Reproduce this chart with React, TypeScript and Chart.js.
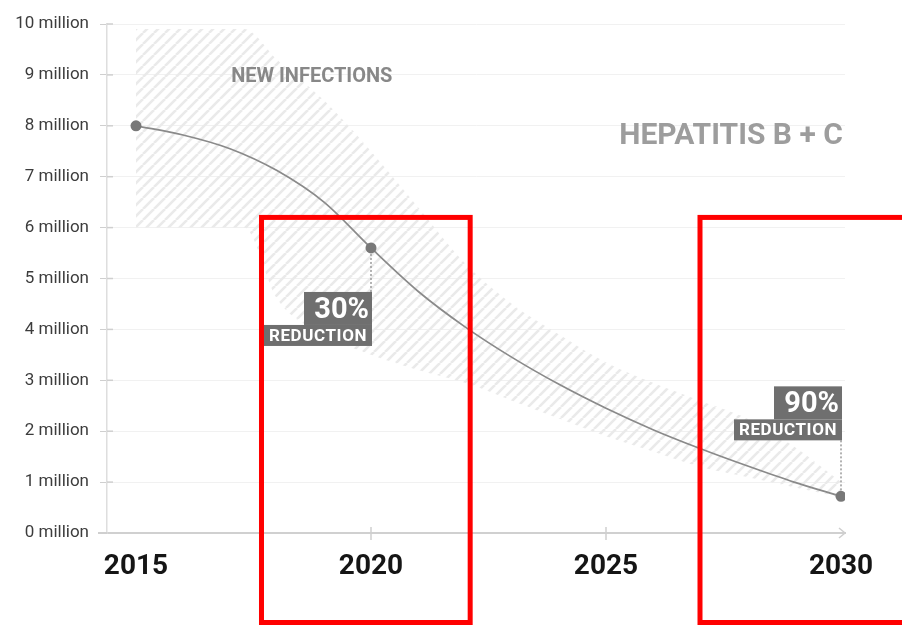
import React, { useEffect, useRef } from 'react';
import { Chart, registerables } from 'chart.js';

Chart.register(...registerables);

// ---- data ----
const curveYears = [2015, 2016, 2017, 2018, 2019, 2020, 2021, 2022, 2023, 2024, 2025, 2026, 2027, 2028, 2029, 2030];
const newInfections = [8.0, 7.82, 7.55, 7.12, 6.5, 5.6, 4.75, 4.05, 3.45, 2.92, 2.45, 2.03, 1.66, 1.32, 1.0, 0.72];

const bandYears = [2015, 2016, 2017, 2017.3, 2018, 2019, 2020, 2021, 2022, 2023, 2024, 2025, 2026, 2027, 2028, 2029, 2030];
const bandUpper = [9.9, 9.9, 9.9, 9.9, 9.3, 8.5, 7.5, 6.4, 5.3, 4.5, 3.9, 3.35, 2.95, 2.6, 2.25, 1.7, 1.0];
const bandLower = [6.0, 6.0, 6.0, 6.0, 4.6, 3.9, 3.5, 3.2, 2.95, 2.6, 2.25, 1.9, 1.6, 1.3, 1.1, 0.9, 0.7];

const markerYears = [2015, 2020, 2030];
const markerValues = [8.0, 5.6, 0.72];

const xTickYears = [2015, 2020, 2025, 2030];
const xAxisTickMarks = [2020, 2025];
const yTickValues = [0, 1, 2, 3, 4, 5, 6, 7, 8, 9, 10];

const reductionYears = [2020, 2030];
const reductionValues = [5.6, 0.72];
const reductionPercents = ['30%', '90%'];
const reductionPlacement = ['below', 'above'];
const reductionWord = 'REDUCTION';

const bandTitle = 'NEW INFECTIONS';
const bandTitlePos = [2018.74, 8.95];
const chartTitle = 'HEPATITIS B + C';
const chartTitlePos = [2030.04, 7.78];

const highlightXRanges = [
  [2017.67, 2022.11],
  [2027.0, 2031.6],
];
const highlightTop = 6.2;

const FONT = "Roboto, 'Noto Sans', 'DejaVu Sans', sans-serif";

function makeHatch(): CanvasPattern | string {
  const size = 11;
  const c = document.createElement('canvas');
  c.width = size;
  c.height = size;
  const g = c.getContext('2d');
  if (!g) return '#eeeeee';
  g.strokeStyle = '#eaeaea';
  g.lineWidth = 2.6;
  for (const o of [-size, 0, size]) {
    g.beginPath();
    g.moveTo(o, size);
    g.lineTo(o + size, 0);
    g.stroke();
  }
  const p = g.createPattern(c, 'repeat');
  return p || '#eeeeee';
}

const overlayPlugin = {
  id: 'overlay',
  afterDatasetsDraw(chart: any) {
    const { ctx, scales } = chart;
    const x = scales.x;
    const y = scales.y;
    const y0 = y.getPixelForValue(0);
    const xl = chart.chartArea.left;
    const xr = chart.chartArea.right;

    ctx.save();
    ctx.strokeStyle = '#cfcfcf';
    ctx.lineWidth = 2;
    // x axis stub left of the y axis
    ctx.beginPath();
    ctx.moveTo(xl - 9, y0);
    ctx.lineTo(xl, y0);
    ctx.stroke();
    ctx.lineWidth = 1.5;
    // x-axis tick marks
    for (const t of xAxisTickMarks) {
      const px = x.getPixelForValue(t);
      ctx.beginPath();
      ctx.moveTo(px, y0 - 6);
      ctx.lineTo(px, y0 + 7);
      ctx.stroke();
    }
    // arrow head at end of x axis
    ctx.beginPath();
    ctx.moveTo(xr - 6, y0 - 5);
    ctx.lineTo(xr, y0);
    ctx.lineTo(xr - 6, y0 + 5);
    ctx.stroke();
    // y tick crossings to the right of the axis
    for (const v of yTickValues) {
      if (v === 0) continue;
      const py = y.getPixelForValue(v);
      ctx.beginPath();
      ctx.moveTo(xl, py);
      ctx.lineTo(xl + 6, py);
      ctx.stroke();
    }

    // titles
    ctx.fillStyle = '#888888';
    ctx.font = `bold 20px ${FONT}`;
    ctx.textAlign = 'center';
    ctx.textBaseline = 'middle';
    ctx.fillText(bandTitle, x.getPixelForValue(bandTitlePos[0]), y.getPixelForValue(bandTitlePos[1]));
    ctx.fillStyle = '#9d9d9d';
    ctx.font = `bold 30px ${FONT}`;
    ctx.textAlign = 'right';
    ctx.fillText(chartTitle, x.getPixelForValue(chartTitlePos[0]), y.getPixelForValue(chartTitlePos[1]));

    // reduction labels
    const topW = 68;
    const topH = 33;
    const botW = 108;
    const botH = 21;
    reductionYears.forEach((yr, i) => {
      const px = x.getPixelForValue(yr);
      const py = y.getPixelForValue(reductionValues[i]);
      const right = px + 1;
      let boxTop: number;
      let connFrom: number;
      let connTo: number;
      if (reductionPlacement[i] === 'below') {
        boxTop = py + 44;
        connFrom = py + 6;
        connTo = boxTop;
      } else {
        boxTop = py - 56 - topH - botH;
        connFrom = boxTop + topH + botH;
        connTo = py - 6;
      }
      ctx.strokeStyle = '#9a9a9a';
      ctx.lineWidth = 1.5;
      ctx.setLineDash([2, 2]);
      ctx.beginPath();
      ctx.moveTo(px, connFrom);
      ctx.lineTo(px, connTo);
      ctx.stroke();
      ctx.setLineDash([]);

      ctx.fillStyle = '#6f6f6f';
      ctx.fillRect(right - topW, boxTop, topW, topH);
      ctx.fillRect(right - botW, boxTop + topH, botW, botH);
      ctx.fillStyle = '#ffffff';
      ctx.textAlign = 'right';
      ctx.textBaseline = 'middle';
      ctx.font = `bold 29px ${FONT}`;
      ctx.fillText(reductionPercents[i], right - 3, boxTop + topH / 2 + 2);
      ctx.textAlign = 'center';
      ctx.font = `bold 17px ${FONT}`;
      try {
        (ctx as any).letterSpacing = '0.6px';
      } catch (e) {
        /* ignore */
      }
      ctx.fillText(reductionWord, right - botW / 2, boxTop + topH + botH / 2 + 1);
      try {
        (ctx as any).letterSpacing = '0px';
      } catch (e) {
        /* ignore */
      }
    });
    ctx.restore();
  },
  afterDraw(chart: any) {
    const { ctx, scales } = chart;
    const x = scales.x;
    const y = scales.y;
    ctx.save();
    ctx.strokeStyle = '#ff0000';
    ctx.lineWidth = 5;
    const top = y.getPixelForValue(highlightTop);
    const bottom = chart.height - 2.5;
    for (const [a, b] of highlightXRanges) {
      const l = x.getPixelForValue(a);
      const r = x.getPixelForValue(b);
      ctx.strokeRect(l, top, r - l, bottom - top);
    }
    ctx.restore();
  },
};

export default function App() {
  const ref = useRef<HTMLCanvasElement | null>(null);

  useEffect(() => {
    if (!ref.current) return;
    const hatch = makeHatch();
    const chart = new Chart(ref.current, {
      type: 'line',
      data: {
        datasets: [
          {
            label: 'markers',
            data: markerYears.map((yr, i) => ({ x: yr, y: markerValues[i] })),
            showLine: false,
            pointRadius: 5.5,
            pointBackgroundColor: '#787878',
            pointBorderWidth: 0,
          },
          {
            label: 'New infections',
            data: curveYears.map((yr, i) => ({ x: yr, y: newInfections[i] })),
            borderColor: '#8a8a8a',
            borderWidth: 1.7,
            pointRadius: 0,
            cubicInterpolationMode: 'monotone',
            fill: false,
          },
          {
            label: 'band upper',
            data: bandYears.map((yr, i) => ({ x: yr, y: bandUpper[i] })),
            borderWidth: 0,
            borderColor: 'rgba(0,0,0,0)',
            pointRadius: 0,
            cubicInterpolationMode: 'monotone',
            backgroundColor: hatch as any,
            fill: '+1',
          },
          {
            label: 'band lower',
            data: bandYears.map((yr, i) => ({ x: yr, y: bandLower[i] })),
            borderWidth: 0,
            borderColor: 'rgba(0,0,0,0)',
            pointRadius: 0,
            cubicInterpolationMode: 'monotone',
            fill: false,
          },
        ],
      },
      options: {
        animation: false,
        responsive: false,
        maintainAspectRatio: false,
        layout: { padding: { left: 0, top: 24, right: 57, bottom: 0 } },
        plugins: {
          legend: { display: false },
          tooltip: { enabled: false },
        },
        scales: {
          x: {
            type: 'linear',
            min: 2014.383,
            max: 2030.085,
            afterBuildTicks: (s: any) => {
              s.ticks = xTickYears.map((v) => ({ value: v }));
            },
            afterFit: (s: any) => {
              s.height = 92;
            },
            grid: { display: false, drawTicks: false },
            border: { display: true, color: '#d0d0d0', width: 2 },
            ticks: {
              padding: 17,
              color: '#151515',
              font: { family: FONT, size: 28, weight: 'bold' },
              callback: (v: any) => String(v),
            },
          },
          y: {
            type: 'linear',
            min: 0,
            max: 10,
            afterBuildTicks: (s: any) => {
              s.ticks = yTickValues.map((v) => ({ value: v }));
            },
            afterFit: (s: any) => {
              s.width = 107;
            },
            grid: {
              color: (c: any) => (c.tick && c.tick.value === 0 ? 'rgba(0,0,0,0)' : '#f1f1f1'),
              lineWidth: 1,
              drawTicks: true,
              tickLength: 7,
              tickColor: '#cfcfcf',
            },
            border: { display: true, color: '#dedede', width: 1.5 },
            ticks: {
              padding: 11,
              color: '#3c3c3c',
              font: { family: FONT, size: 17 },
              callback: (v: any) => `${v} million`,
            },
          },
        },
      },
      plugins: [overlayPlugin],
    });
    return () => chart.destroy();
  }, []);

  return (
    <div style={{ position: 'fixed', left: 0, top: 0, width: 902, height: 625, background: '#ffffff' }}>
      <canvas ref={ref} width={902} height={625} style={{ display: 'block', width: 902, height: 625 }} />
    </div>
  );
}
